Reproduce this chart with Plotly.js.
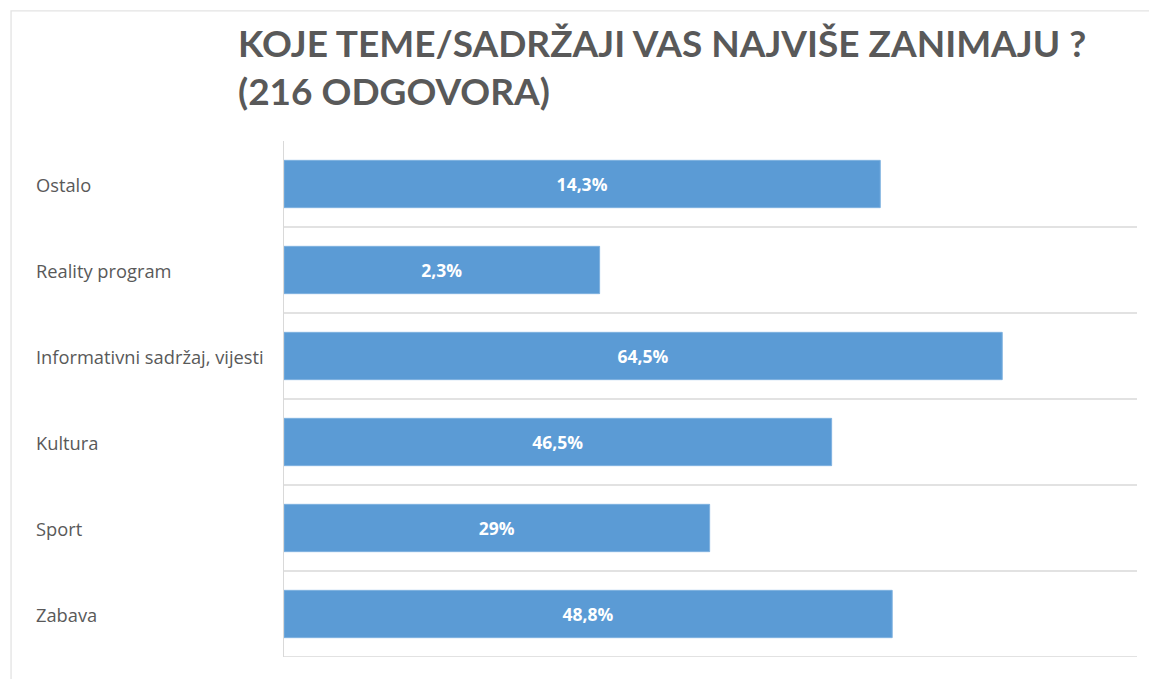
<!DOCTYPE html>
<html>
<head>
<meta charset="utf-8">
<script src="https://cdn.plot.ly/plotly-3.0.1.min.js"></script>
<style>html,body{margin:0;padding:0;background:#fff;}#chart{width:1149px;height:679px;}</style>
</head>
<body>
<div id="chart"></div>
<script>
// Categories, top to bottom as shown
const categories = ["Ostalo", "Reality program", "Informativni sadržaj, vijesti", "Kultura", "Sport", "Zabava"];
// Bar lengths as drawn (axis 0–100, no visible ticks)
const barValues = [69.9, 37.0, 84.2, 64.2, 49.9, 71.3];
// Data label texts as printed on the bars
const barLabels = ["14,3%", "2,3%", "64,5%", "46,5%", "29%", "48,8%"];

const titleText = "KOJE TEME/SADRŽAJI VAS NAJVIŠE ZANIMAJU ?<br>(216 ODGOVORA)";

const trace = {
  type: "bar",
  orientation: "h",
  y: categories,
  x: barValues,
  text: barLabels,
  textposition: "inside",
  insidetextanchor: "middle",
  textangle: 0,
  textfont: {family: "Open Sans, sans-serif", size: 17.5, color: "#ffffff", weight: 700},
  marker: {color: "#5B9BD5", line: {color: "#7FB2E0", width: 1}},
  width: 0.55,
  hoverinfo: "none",
  cliponaxis: false
};

const shapes = [];
// horizontal gridlines at category boundaries (below each category)
for (let i = 0; i < categories.length; i++) {
  shapes.push({type: "line", xref: "paper", yref: "y", x0: 0, x1: 1, y0: i + 0.5, y1: i + 0.5,
               line: {color: "#d9d9d9", width: 1.3}, layer: "below"});
}
// outer frame (partially visible)
shapes.push({type: "rect", xref: "paper", yref: "paper", x0: -0.32, x1: 1.05, y0: -0.1, y1: 1.252,
             line: {color: "#e3e3e3", width: 1.3}, fillcolor: "rgba(0,0,0,0)", layer: "below"});

const annotations = categories.map((c, i) => ({
  xref: "paper", yref: "y", x: -0.2925, y: c, xanchor: "left", yanchor: "middle",
  text: c, showarrow: false,
  font: {family: "Open Sans, sans-serif", size: 18.3, color: "#595959"}
}));

const layout = {
  width: 1149, height: 679,
  margin: {l: 284, r: 12, t: 141, b: 22},
  paper_bgcolor: "#ffffff", plot_bgcolor: "#ffffff",
  title: {
    text: titleText,
    x: 238 / 1149, xanchor: "left", xref: "container",
    y: 1 - 57 / 679, yanchor: "top", yref: "container",
    font: {family: "Lato, sans-serif", size: 37, color: "#595959", weight: 700}
  },
  xaxis: {range: [0, 100], showgrid: false, zeroline: false, showticklabels: false, showline: false, fixedrange: true},
  yaxis: {type: "category", range: [5.5, -0.5], showgrid: false, zeroline: false, showticklabels: false,
          showline: true, linecolor: "#d9d9d9", linewidth: 1.3, ticks: "", fixedrange: true},
  shapes: shapes,
  annotations: annotations,
  showlegend: false
};

Plotly.newPlot("chart", [trace], layout, {displayModeBar: false, staticPlot: true});
</script>
</body>
</html>
